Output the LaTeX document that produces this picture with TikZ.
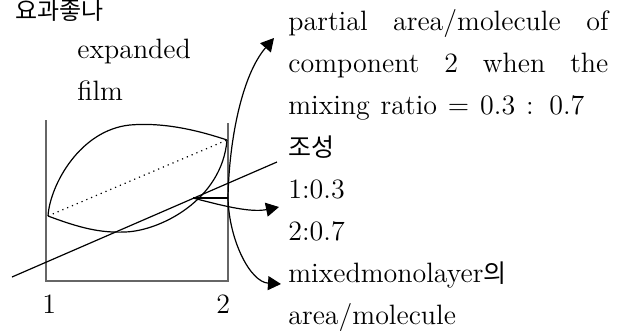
\documentclass[tikz,border=0pt]{standalone}
\usepackage{fontspec}
\newfontfamily\kr{Noto Sans CJK KR}
\usetikzlibrary{arrows.meta,positioning}

\begin{document}
\begin{tikzpicture}[x=0.5pt,y=-0.5pt,
  every node/.style={inner sep=0pt,anchor=base west,font=\fontsize{14}{16}\selectfont},
  next/.style={below=21pt of #1.base west,anchor=base west},
  frame/.style={draw=black!60,line width=0.6pt},
  curve/.style={line width=0.6pt},
  callout/.style={line width=0.6pt,-{Triangle[length=6.5pt,width=7pt]}}
]
  \useasboundingbox (0,0) rectangle (618,333);

  \node (kor) at (15,19) {\kr\fontsize{12}{15}\selectfont 요과좋나};
  \node (exp) at (77,58) {expanded};
  \node[next=exp] (film) {film};

  \node (r1) at (288,30) {\makebox[160pt][s]{partial area/molecule of}};
  \node[next=r1] (r2) {\makebox[160pt][s]{component 2 when the}};
  \node[next=r2] (r3) {\makebox[148pt][s]{mixing ratio = 0.3 : 0.7}};
  \node[next=r3] (r4) {\kr\fontsize{12.5}{15}\selectfont 조성};
  \node[next=r4] (r5) {1:0.3};
  \node[next=r5] (r6) {2:0.7};
  \node[next=r6] (r7) {mixedmonolayer{\kr\fontsize{12.5}{15}\selectfont 의}};
  \node[next=r7] (r8) {area/molecule};

  \node (one) at (42,313) {1};
  \node (two) at (216,313) {2};

  \coordinate (lft) at (48,216);
  \coordinate (rgt) at (227,140);
  \coordinate (tan) at (193,198);
  \coordinate (mid) at (228,198);
  \coordinate (tipA) at (274,38);
  \coordinate (tipB) at (279,207);
  \coordinate (tipC) at (281,284);
  \coordinate (lineS) at (12,277);
  \coordinate (lineE) at (277,162);

  \draw[frame] (46,120) -- (46,281) -- (228,281) -- (228,123);

  \draw[curve] (lft) .. controls (50,185) and (80,130) .. (130,125)
    .. controls (165,122) and (200,131) .. (rgt);
  \draw[curve] (lft) .. controls (80,228) and (100,233) .. (125,232)
    .. controls (160,231) and (222,200) .. (rgt);
  \draw[curve,dotted] (lft) -- (rgt);
  \draw[curve] (lineS) -- (lineE);
  \draw[curve] (tan) -- (mid);

  \draw[callout] (tan) .. controls (220,205) and (250,213) .. (tipB);
  \draw[callout] (mid) .. controls (229,140) and (242,75) .. (tipA);
  \draw[callout] (mid) .. controls (229,240) and (250,282) .. (tipC);
\end{tikzpicture}
\end{document}
